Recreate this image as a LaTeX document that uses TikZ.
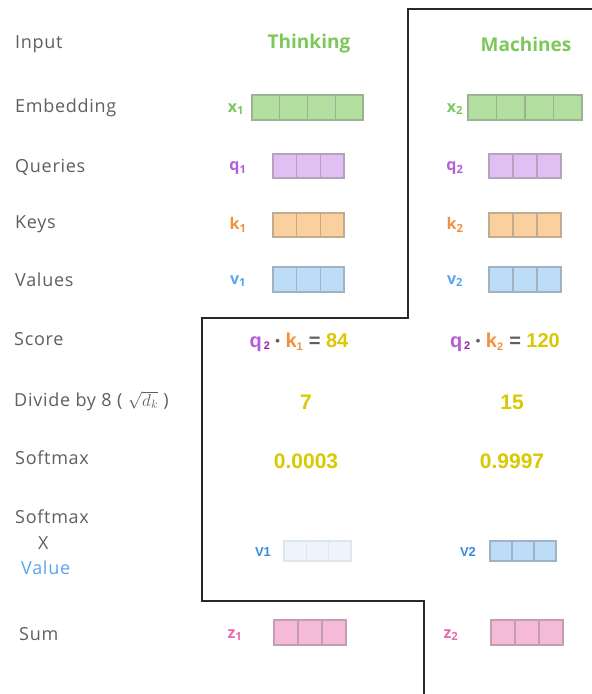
\documentclass[tikz,border=0pt]{standalone}
\usepackage{fontspec}
\setmainfont{Open Sans}
\newfontfamily\numfont{Liberation Sans}
\definecolor{labgray}{RGB}{95,95,95}
\definecolor{wgreen}{RGB}{125,200,90}
\definecolor{embfill}{RGB}{178,222,160}
\definecolor{qcol}{RGB}{180,95,215}
\definecolor{qdark}{RGB}{150,40,160}
\definecolor{qfill}{RGB}{224,192,242}
\definecolor{kcol}{RGB}{242,145,60}
\definecolor{kfill}{RGB}{249,208,158}
\definecolor{vcol}{RGB}{90,165,240}
\definecolor{vdark}{RGB}{55,140,225}
\definecolor{vfill}{RGB}{188,220,248}
\definecolor{vfaint}{RGB}{238,244,252}
\definecolor{zcol}{RGB}{232,105,175}
\definecolor{zfill}{RGB}{244,186,216}
\definecolor{ycol}{RGB}{218,200,0}
\definecolor{linec}{RGB}{40,40,40}
\newcommand\vecrow[7][55]{% [border mix] x0 y0 x1 y1 n color
  \draw[fill=#7, draw=#7!#1!gray, line width=1.2pt] (#2,#3) rectangle (#4,#5);
  \foreach \i in {1,...,\numexpr#6-1\relax}
    \draw[draw=#7!#1!gray, line width=1.2pt] ({#2+\i*(#4-#2)/#6},#3) -- ({#2+\i*(#4-#2)/#6},#5);
}
\newcommand\scoretext[2]{\textcolor{qcol}{q}\textcolor{qdark}{\fontsize{11}{11}\selectfont\raisebox{-0.35ex}{\,2}}\;\textcolor{labgray}{\fontsize{13}{13}\selectfont\raisebox{0.25ex}{\textbullet}}\;\textcolor{kcol}{k\textsubscript{\fontsize{11}{11}\selectfont #1}}\;\textcolor{labgray}{=}\;\textcolor{ycol}{#2}}
\tikzset{
  lab/.style={anchor=west, text=labgray, font=\fontsize{18}{20}\selectfont\addfontfeature{LetterSpace=4}, inner sep=0pt},
  word/.style={text=wgreen, font=\fontsize{19}{21}\selectfont\bfseries, inner sep=0pt},
  sym/.style={font=\fontsize{16}{18}\selectfont\bfseries, inner sep=0pt},
  num/.style={text=ycol, font=\numfont\fontsize{21}{23}\selectfont\bfseries, inner sep=0pt},
  vlab/.style={text=vdark, font=\numfont\fontsize{13}{15}\selectfont\bfseries, inner sep=0pt},
  divider/.style={draw=linec, line width=1.3pt}
}
\begin{document}
\begin{tikzpicture}[x=1pt,y=-1pt]
\useasboundingbox (0,0) rectangle (592,694);
\fill[white] (0,0) rectangle (592,694);
% left labels
\node[lab] (input) at (15,44) {Input};
\node[lab] (emb) at (15,108) {Embedding};
\node[lab] (queries) at (15,167) {Queries};
\node[lab] (keys) at (15,224) {Keys};
\node[lab] (values) at (15,280) {Values};
\node[lab] (score) at (14,339) {Score};
\node[lab] (divide) at (14,401) {Divide by 8 ( $\sqrt{d_k}$ )};
\node[lab] (softmax) at (15,458) {Softmax};
\node[lab] (smx) at (15,517) {Softmax};
\node[lab] (times) at (38,543) {X};
\node[lab, text=vcol] (value) at (21,568) {Value};
\node[lab] (sum) at (19,634) {Sum};
% words
\node[word] (thinking) at (309,44) {Thinking};
\node[word] (machines) at (526,44) {Machines};
% embeddings
\node[sym, text=wgreen] (x1) at (236,109) {x\textsubscript{1}};
\vecrow{252}{95}{363}{120}{4}{embfill}
\node[sym, text=wgreen] (x2) at (455,109) {x\textsubscript{2}};
\vecrow{468}{95}{582}{120}{4}{embfill}
% queries
\node[sym, text=qcol] (q1) at (238,168) {q\textsubscript{1}};
\vecrow{273}{154}{344}{178}{3}{qfill}
\node[sym, text=qcol] (q2) at (455,168) {q\textsubscript{2}};
\vecrow{489}{154}{561}{178}{3}{qfill}
% keys
\node[sym, text=kcol] (k1) at (238,225) {k\textsubscript{1}};
\vecrow{273}{213}{344}{237}{3}{kfill}
\node[sym, text=kcol] (k2) at (455,225) {k\textsubscript{2}};
\vecrow{489}{213}{561}{237}{3}{kfill}
% values
\node[sym, text=vcol] (v1) at (238,281) {v\textsubscript{1}};
\vecrow{273}{267}{344}{292}{3}{vfill}
\node[sym, text=vcol] (v2) at (455,281) {v\textsubscript{2}};
\vecrow{489}{267}{561}{292}{3}{vfill}
% score
\node[inner sep=0pt, font=\numfont\fontsize{20}{22}\selectfont\bfseries] (s1) at (299,342) {\scoretext{1}{84}};
\node[inner sep=0pt, font=\numfont\fontsize{20}{22}\selectfont\bfseries] (s2) at (505,342) {\scoretext{2}{120}};
% divide
\node[num] (d1) at (306,402) {7};
\node[num] (d2) at (512,402) {15};
% softmax
\node[num] (sm1) at (306,461) {0.0003};
\node[num] (sm2) at (512,461) {0.9997};
% weighted values
\node[vlab] (wv1) at (263,552) {V1};
\vecrow[88]{284}{541}{351}{561}{3}{vfaint}
\node[vlab] (wv2) at (468,552) {V2};
\vecrow{490}{541}{556}{561}{3}{vfill}
% sum
\node[sym, text=zcol] (z1) at (235,635) {z\textsubscript{1}};
\vecrow{274}{620}{346}{645}{3}{zfill}
\node[sym, text=zcol] (z2) at (451,635) {z\textsubscript{2}};
\vecrow{491}{620}{563}{645}{3}{zfill}
% divider line
\draw[divider] (592,9) -- (408,9) -- (408,318) -- (202,318) -- (202,601) -- (424,601) -- (424,694);
\end{tikzpicture}
\end{document}
